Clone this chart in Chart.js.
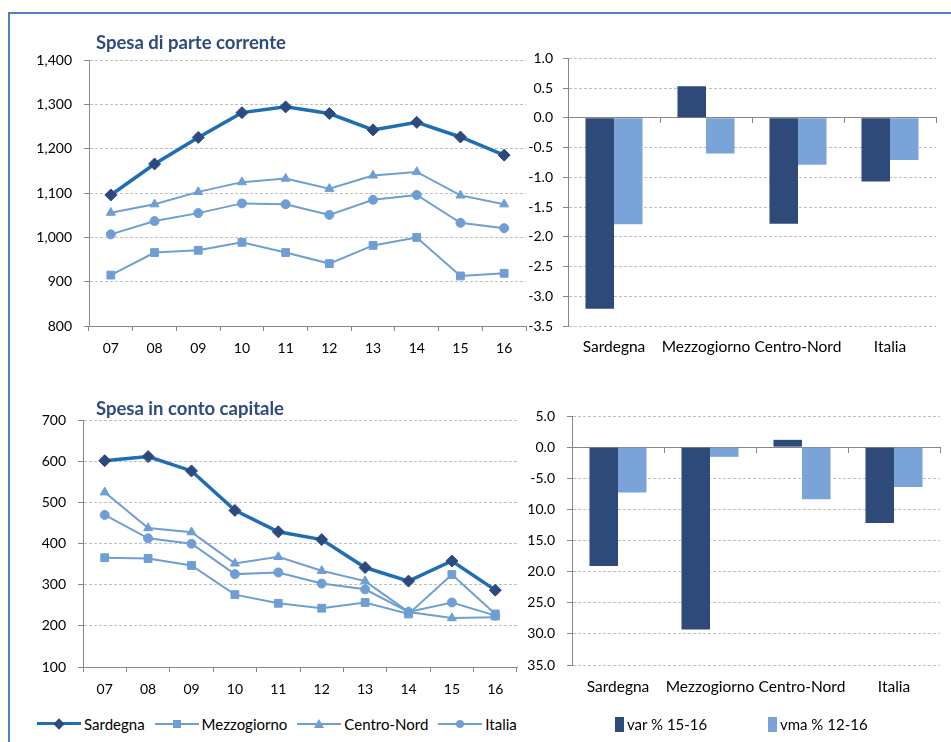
<!DOCTYPE html>
<html>
<head>
<meta charset="utf-8">
<script src="https://cdn.jsdelivr.net/npm/chart.js@4.4.1/dist/chart.umd.min.js"></script>
<style>
  body { margin: 0; width: 951px; height: 742px; overflow: hidden; background: #fff; position: relative;
         font-family: Lato, 'Open Sans', sans-serif; }
  .frame { position: absolute; left: 8px; top: 12px; width: 1000px; height: 800px;
           border-left: 2px solid #4F81BD; border-top: 2px solid #4F81BD; }
  .box { position: absolute; }
  .title { position: absolute; font-weight: bold; font-size: 18.5px; line-height: 22px; color: #2E4A7F; z-index: 2; }
  .legend { position: absolute; display: flex; align-items: center; font-size: 15px; color: #000; z-index: 2; }
  .item { display: flex; align-items: center; margin-right: 10px; }
  .sym { position: relative; width: 44px; height: 18px; margin-right: 3px; }
  .sym .ln { position: absolute; left: 0; right: 0; top: 8px; height: 2px; background: #6E9ED4; }
  .sym .mk { position: absolute; left: 18px; top: 5px; width: 8px; height: 8px; background: #6E9ED4; }
  .sq { width: 9px; height: 15px; margin-right: 3px; }
</style>
</head>
<body>
<div class="frame"></div>

<div class="title" style="left:96px; top:31px;">Spesa di parte corrente</div>
<div class="title" style="left:96px; top:397px;">Spesa in conto capitale</div>

<div class="box" style="left:10px; top:40px;"><canvas id="correnteLine" width="530" height="326"></canvas></div>
<div class="box" style="left:520px; top:40px;"><canvas id="correnteBar" width="431" height="326"></canvas></div>
<div class="box" style="left:10px; top:400px;"><canvas id="capitaleLine" width="530" height="307"></canvas></div>
<div class="box" style="left:520px; top:380px;"><canvas id="capitaleBar" width="431" height="325"></canvas></div>

<div class="legend" style="left:37px; top:715px;">
  <div class="item"><div class="sym"><div class="ln" style="height:3px; top:7px; background:#1F6EB4;"></div><div class="mk" style="background:#2C4A7E; transform:rotate(45deg);"></div></div>Sardegna</div>
  <div class="item"><div class="sym"><div class="ln"></div><div class="mk"></div></div>Mezzogiorno</div>
  <div class="item"><div class="sym"><div class="ln"></div><div class="mk" style="width:0; height:0; background:none; top:4px; border-left:5px solid transparent; border-right:5px solid transparent; border-bottom:9px solid #6E9ED4; left:17px;"></div></div>Centro-Nord</div>
  <div class="item"><div class="sym"><div class="ln"></div><div class="mk" style="border-radius:50%;"></div></div>Italia</div>
</div>
<div class="legend" style="left:615px; top:715px;">
  <div class="sq" style="background:#2E4A78;"></div>var % 15-16
</div>
<div class="legend" style="left:768px; top:715px;">
  <div class="sq" style="background:#7AA3D7;"></div>vma % 12-16
</div>

<script>
const years = ['07', '08', '09', '10', '11', '12', '13', '14', '15', '16'];
const regions = ['Sardegna', 'Mezzogiorno', 'Centro-Nord', 'Italia'];

// spesa di parte corrente, euro pro capite
const correnteSardegna = [1096, 1166, 1226, 1282, 1295, 1280, 1243, 1260, 1227, 1186];
const correnteMezzogiorno = [915, 966, 971, 989, 966, 941, 982, 1000, 913, 919];
const correnteCentroNord = [1056, 1075, 1103, 1125, 1133, 1110, 1140, 1148, 1095, 1075];
const correnteItalia = [1007, 1037, 1055, 1077, 1075, 1051, 1085, 1096, 1033, 1021];

// spesa in conto capitale
const capitaleSardegna = [602, 612, 577, 481, 429, 410, 342, 309, 358, 287];
const capitaleMezzogiorno = [366, 364, 347, 276, 255, 243, 257, 229, 325, 229];
const capitaleCentroNord = [525, 438, 428, 352, 368, 334, 309, 234, 219, 221];
const capitaleItalia = [470, 413, 400, 326, 330, 303, 289, 234, 257, 225];

// variazioni %
const correnteVar = [-3.21, 0.53, -1.78, -1.07];
const correnteVma = [-1.79, -0.60, -0.79, -0.71];
const capitaleVar = [-19.1, -29.3, 1.17, -12.2];
const capitaleVma = [-7.3, -1.56, -8.36, -6.4];

Chart.defaults.font.family = "Lato, 'Open Sans', sans-serif";
Chart.defaults.font.size = 14;
Chart.defaults.color = '#000';
Chart.defaults.animation = false;

const AXIS = '#868686';
const GRID = '#BFBFBF';
const LIGHT = '#6E9ED4';

function lineSets(sard, mezz, cn, ita) {
    const light = (label, data, style, r) => ({
        label, data,
        borderColor: LIGHT, borderWidth: 2,
        pointStyle: style, pointRadius: r,
        pointBackgroundColor: LIGHT, pointBorderColor: LIGHT, pointBorderWidth: 1
    });
    return [
        {
            label: 'Sardegna', data: sard,
            borderColor: '#1F6EB4', borderWidth: 3.5,
            pointStyle: 'rectRot', pointRadius: 6,
            pointBackgroundColor: '#2C4A7E', pointBorderColor: '#2C4A7E', pointBorderWidth: 1
        },
        light('Mezzogiorno', mezz, 'rect', 5.5),
        light('Centro-Nord', cn, 'triangle', 5.2),
        light('Italia', ita, 'circle', 4.5)
    ];
}

function yAxis(min, max, step, width, pad, fmt) {
    return {
        min: min, max: max,
        ticks: { stepSize: step, padding: pad, callback: fmt },
        grid: { color: GRID, tickColor: AXIS, tickLength: 5, tickBorderDash: [] },
        border: { color: AXIS, dash: [3, 2] },
        afterFit: s => { s.width = width; }
    };
}

function lineChart(id, datasets, y, padding) {
    new Chart(document.getElementById(id), {
        type: 'line',
        data: { labels: years, datasets: datasets },
        options: {
            responsive: false,
            layout: { padding: padding },
            plugins: { legend: { display: false }, tooltip: { enabled: false } },
            elements: { line: { tension: 0 } },
            scales: {
                x: {
                    offset: true,
                    grid: { offset: true, drawOnChartArea: false, tickLength: 5, color: AXIS },
                    border: { color: AXIS },
                    ticks: { padding: 9 },
                    afterFit: s => { s.height = 40; }
                },
                y: y
            }
        }
    });
}

function barChart(id, varData, vmaData, y, padding, labelPad) {
    new Chart(document.getElementById(id), {
        type: 'bar',
        data: {
            labels: regions,
            datasets: [
                { label: 'var % 15-16', data: varData, backgroundColor: '#2E4A78' },
                { label: 'vma % 12-16', data: vmaData, backgroundColor: '#7AA3D7' }
            ]
        },
        options: {
            responsive: false,
            layout: { padding: padding },
            plugins: { legend: { display: false }, tooltip: { enabled: false } },
            datasets: { bar: { barPercentage: 1, categoryPercentage: 0.62 } },
            scales: {
                x: {
                    grid: { display: false, drawTicks: false },
                    border: { display: false },
                    ticks: { padding: labelPad, font: { size: 15.5 }, maxRotation: 0, minRotation: 0, autoSkip: false },
                    afterFit: s => { s.height = 40; }
                },
                x0: {
                    type: 'category', labels: regions,
                    position: { y: 0 },
                    offset: true,
                    grid: { offset: true, drawOnChartArea: false, tickLength: 5, color: AXIS },
                    border: { color: AXIS },
                    ticks: { display: false }
                },
                y: y
            }
        }
    });
}

lineChart('correnteLine',
    lineSets(correnteSardegna, correnteMezzogiorno, correnteCentroNord, correnteItalia),
    yAxis(800, 1400, 100, 79, 12, v => v.toLocaleString('en-US')),
    { top: 18, right: 14, left: 0, bottom: 0 });

lineChart('capitaleLine',
    lineSets(capitaleSardegna, capitaleMezzogiorno, capitaleCentroNord, capitaleItalia),
    yAxis(100, 700, 100, 73, 12, v => String(v)),
    { top: 20, right: 23, left: 0, bottom: 0 });

barChart('correnteBar', correnteVar, correnteVma,
    yAxis(-3.5, 1, 0.5, 48, 10, v => v.toFixed(1)),
    { top: 16, right: 15, left: 0, bottom: 0 }, 12);

// the reference drops the minus sign on two-digit labels
barChart('capitaleBar', capitaleVar, capitaleVma,
    yAxis(-35, 5, 5, 52, 12, v => (v <= -10 ? (-v).toFixed(1) : v.toFixed(1))),
    { top: 36, right: 11, left: 0, bottom: 0 }, 13);
</script>
</body>
</html>
